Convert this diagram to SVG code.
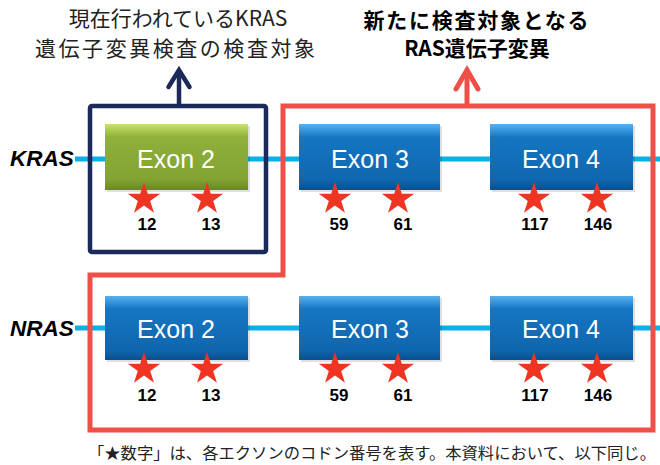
<svg xmlns="http://www.w3.org/2000/svg" width="660" height="465" viewBox="0 0 660 465">
<defs>
<linearGradient id="gBlue" x1="0" y1="0" x2="0" y2="1">
<stop offset="0" stop-color="#5AB0EC"/>
<stop offset="0.12" stop-color="#2E8ED8"/>
<stop offset="0.2" stop-color="#1676C2"/>
<stop offset="0.85" stop-color="#0F66AE"/>
<stop offset="1" stop-color="#0A4F8C"/>
</linearGradient>
<linearGradient id="gGreen" x1="0" y1="0" x2="0" y2="1">
<stop offset="0" stop-color="#C9E07A"/>
<stop offset="0.12" stop-color="#A5C449"/>
<stop offset="0.2" stop-color="#8FB03C"/>
<stop offset="0.85" stop-color="#82A233"/>
<stop offset="1" stop-color="#6A8626"/>
</linearGradient>
<path id="star" d="M0,-17 L3.82,-5.26 L16.17,-5.26 L6.18,2.01 L9.99,13.75 L0,6.5 L-9.99,13.75 L-6.18,2.01 L-16.17,-5.26 L-3.82,-5.26 Z"/>
</defs>
<style>
.exon{stroke:none}
.shadow{fill:#000;opacity:0.12}
.etext{font-family:"Liberation Sans",Arial,sans-serif;font-size:25px;fill:#fff;text-anchor:middle}
.gene{font-family:"Liberation Sans",Arial,sans-serif;font-size:22.5px;font-weight:bold;font-style:italic;fill:#000}
.num{font-family:"Liberation Sans",Arial,sans-serif;font-size:17px;font-weight:bold;fill:#000;text-anchor:middle}
.star{fill:#EE3524}
.line{stroke:#0AAFE6;stroke-width:5;fill:none}
.title{font-family:"Noto Sans CJK JP",sans-serif;font-size:21px;fill:#222;text-anchor:middle}
.titleb{font-family:"Noto Sans CJK JP",sans-serif;font-size:21px;font-weight:bold;fill:#000;text-anchor:middle}
.foot{font-family:"Noto Sans CJK JP",sans-serif;font-size:15.5px;fill:#222}
</style>
<rect width="660" height="465" fill="#fff"/>

<g id="connectors">
<line class="line" x1="75" y1="159" x2="660" y2="159"/>
<line class="line" x1="75" y1="328" x2="660" y2="328"/>
</g>

<g id="titles">
<text class="title" x="178" y="26">現在行われているKRAS</text>
<text class="title" x="175" y="56" textLength="280" lengthAdjust="spacing">遺伝子変異検査の検査対象</text>
<text class="titleb" x="476" y="28" textLength="225" lengthAdjust="spacing">新たに検査対象となる</text>
<text class="titleb" x="477" y="56">RAS遺伝子変異</text>
</g>

<g id="current-box">
<rect x="90" y="106" width="176" height="146" fill="none" stroke="#1B2A5A" stroke-width="4.5" rx="2"/>
<line x1="179" y1="106" x2="179" y2="71" stroke="#1B2A5A" stroke-width="4.5"/>
<polyline points="168.5,87 179,70 189.5,87" fill="none" stroke="#1B2A5A" stroke-width="4.5" stroke-linecap="round" stroke-linejoin="miter"/>
</g>

<g id="new-box">
<polygon points="283,106 653,106 653,430 90,430 90,275 283,275" fill="none" stroke="#EE5048" stroke-width="5"/>
<line x1="467" y1="106" x2="467" y2="71" stroke="#EE5048" stroke-width="5"/>
<polyline points="456,89 467,70 478,89" fill="none" stroke="#EE5048" stroke-width="5" stroke-linecap="round"/>
</g>

<g id="labels">
<text class="gene" x="10" y="166">KRAS</text>
<text class="gene" x="10" y="336">NRAS</text>
</g>

<g id="kras-exon2">
<rect class="shadow" x="107" y="126" width="143" height="66"/>
<rect class="exon" x="105" y="124" width="143" height="66" fill="url(#gGreen)"/>
<text class="etext" x="176" y="168">Exon 2</text>
<use href="#star" class="star" x="144" y="199"/>
<use href="#star" class="star" x="207" y="199"/>
<text class="num" x="147" y="230">12</text>
<text class="num" x="211" y="230">13</text>
</g>
<g id="kras-exon3">
<rect class="shadow" x="301" y="126" width="141" height="66"/>
<rect class="exon" x="299" y="124" width="141" height="66" fill="url(#gBlue)"/>
<text class="etext" x="370" y="168">Exon 3</text>
<use href="#star" class="star" x="335" y="199"/>
<use href="#star" class="star" x="398" y="199"/>
<text class="num" x="339" y="230">59</text>
<text class="num" x="403" y="230">61</text>
</g>
<g id="kras-exon4">
<rect class="shadow" x="492" y="126" width="143" height="66"/>
<rect class="exon" x="490" y="124" width="143" height="66" fill="url(#gBlue)"/>
<text class="etext" x="561" y="168">Exon 4</text>
<use href="#star" class="star" x="534" y="199"/>
<use href="#star" class="star" x="597" y="199"/>
<text class="num" x="535" y="230">117</text>
<text class="num" x="598" y="230">146</text>
</g>

<g id="nras-exon2">
<rect class="shadow" x="107" y="298" width="143" height="64"/>
<rect class="exon" x="105" y="296" width="143" height="64" fill="url(#gBlue)"/>
<text class="etext" x="176" y="338">Exon 2</text>
<use href="#star" class="star" x="144" y="369"/>
<use href="#star" class="star" x="207" y="369"/>
<text class="num" x="147" y="401">12</text>
<text class="num" x="211" y="401">13</text>
</g>
<g id="nras-exon3">
<rect class="shadow" x="301" y="298" width="141" height="64"/>
<rect class="exon" x="299" y="296" width="141" height="64" fill="url(#gBlue)"/>
<text class="etext" x="370" y="338">Exon 3</text>
<use href="#star" class="star" x="335" y="369"/>
<use href="#star" class="star" x="398" y="369"/>
<text class="num" x="339" y="401">59</text>
<text class="num" x="403" y="401">61</text>
</g>
<g id="nras-exon4">
<rect class="shadow" x="492" y="298" width="143" height="64"/>
<rect class="exon" x="490" y="296" width="143" height="64" fill="url(#gBlue)"/>
<text class="etext" x="561" y="338">Exon 4</text>
<use href="#star" class="star" x="534" y="369"/>
<use href="#star" class="star" x="597" y="369"/>
<text class="num" x="535" y="401">117</text>
<text class="num" x="598" y="401">146</text>
</g>

<g id="footer">
<text class="foot" x="88" y="459" textLength="568" lengthAdjust="spacingAndGlyphs">「★数字」は、各エクソンのコドン番号を表す。本資料において、以下同じ。</text>
</g>
</svg>
